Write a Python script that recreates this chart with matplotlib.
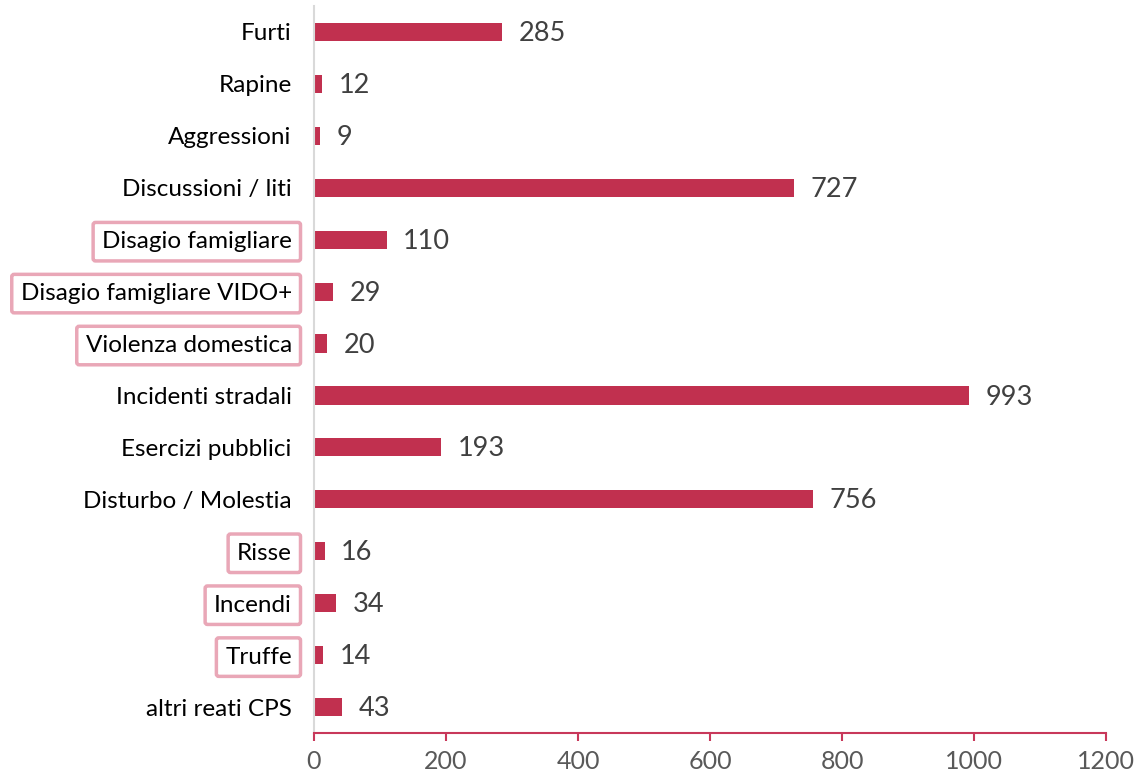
import numpy as np
import matplotlib.pyplot as plt

categories = ["Furti", "Rapine", "Aggressioni", "Discussioni / liti",
              "Disagio famigliare", "Disagio famigliare VIDO+", "Violenza domestica",
              "Incidenti stradali", "Esercizi pubblici", "Disturbo / Molestia",
              "Risse", "Incendi", "Truffe", "altri reati CPS"]
values = [285, 12, 9, 727, 110, 29, 20, 993, 193, 756, 16, 34, 14, 43]
boxed = ["Disagio famigliare", "Disagio famigliare VIDO+", "Violenza domestica",
         "Risse", "Incendi", "Truffe"]
x_ticks = [0, 200, 400, 600, 800, 1000, 1200]

bar_color = '#C1304F'
axis_color = '#C8385A'
box_color = '#E9A7B7'

plt.rcParams['font.family'] = ['Lato', 'DejaVu Sans']

fig = plt.figure(figsize=(11.38, 7.77), dpi=100)
ax = fig.add_axes([0.2759, 0.0566, 0.696, 0.9357])

y = np.arange(len(categories))
ax.barh(y, values, height=0.35, color=bar_color)
for yi, v in zip(y, values):
    ax.text(v + 25, yi + 0.03, str(v), va='center', ha='left', fontsize=19.5, color='#404040')

ax.set_ylim(len(categories) - 0.5, -0.5)
ax.set_xlim(0, 1200)
ax.set_xticks(x_ticks)
ax.set_xticklabels([str(t) for t in x_ticks], fontsize=18, color='#595959')
ax.set_yticks(y)
ax.set_yticklabels(categories, fontsize=17.5, color='black')

ax.tick_params(axis='y', length=0, pad=16)
ax.tick_params(axis='x', direction='out', length=5.5, width=1.5, color=axis_color, pad=7)

for s in ['top', 'right']:
    ax.spines[s].set_visible(False)
ax.spines['left'].set_color('#D9D9D9')
ax.spines['left'].set_linewidth(1.5)
ax.spines['bottom'].set_color(axis_color)
ax.spines['bottom'].set_linewidth(1.5)

for lab in ax.get_yticklabels():
    if lab.get_text() in boxed:
        lab.set_bbox(dict(boxstyle='round,pad=0.36,rounding_size=0.1', fc='white',
                          ec=box_color, lw=2.5))

fig.savefig('out.png', dpi=100)
